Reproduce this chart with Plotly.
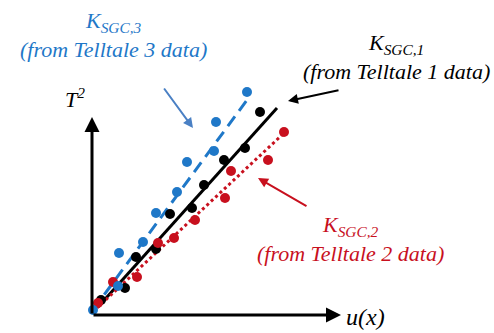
import plotly.graph_objects as go

# Data (schematic units: u(x) horizontal, T^2 vertical)
u_tt3 = [0.05, 1.3, 1.35, 2.55, 3.2, 4.25, 4.75, 6.1, 6.2, 7.75]
T2_tt3 = [0.25, 1.45, 3.1, 3.65, 5.1, 6.15, 7.65, 8.2, 9.65, 11.15]
u_tt1 = [0.45, 1.65, 2.2, 3.2, 3.9, 5.0, 5.6, 6.6, 7.65, 8.4]
T2_tt1 = [0.75, 1.35, 2.9, 3.3, 5.05, 5.35, 6.5, 7.75, 8.35, 10.15]
u_tt2 = [0.3, 1.05, 2.25, 3.3, 4.1, 5.15, 6.65, 6.95, 8.8, 9.6]
T2_tt2 = [0.6, 1.65, 1.9, 3.6, 3.85, 4.75, 5.85, 7.2, 7.75, 9.15]

fit3_u = [0.05, 7.75]
fit3_T = [0.25, 10.75]
fit1_u = [0.3, 9.25]
fit1_T = [0.4, 10.35]
fit2_u = [0.25, 9.5]
fit2_T = [0.35, 9.0]

label_texts = ["K<sub>SGC,3</sub><br>(from Telltale 3 data)",
               "K<sub>SGC,1</sub><br>(from Telltale 1 data)",
               "K<sub>SGC,2</sub><br>(from Telltale 2 data)"]

BLUE = "#1f78c8"
RED = "#c8101e"
BLACK = "#000000"
FONT = "Liberation Serif"

fig = go.Figure()
fig.add_trace(go.Scatter(x=fit3_u, y=fit3_T, mode="lines", showlegend=False,
                         line=dict(color=BLUE, width=3, dash="12px,7px")))
fig.add_trace(go.Scatter(x=fit1_u, y=fit1_T, mode="lines", showlegend=False,
                         line=dict(color=BLACK, width=3)))
fig.add_trace(go.Scatter(x=fit2_u, y=fit2_T, mode="lines", showlegend=False,
                         line=dict(color=RED, width=3, dash="3px,3px")))
fig.add_trace(go.Scatter(x=u_tt1, y=T2_tt1, mode="markers", showlegend=False,
                         marker=dict(color=BLACK, size=10)))
fig.add_trace(go.Scatter(x=u_tt2, y=T2_tt2, mode="markers", showlegend=False,
                         marker=dict(color=RED, size=10)))
fig.add_trace(go.Scatter(x=u_tt3, y=T2_tt3, mode="markers", showlegend=False,
                         marker=dict(color=BLUE, size=10)))

ann = []
# axes arrows
ann.append(dict(x=0, y=9.9, ax=0, ay=0, xref="x", yref="y", axref="x", ayref="y",
                showarrow=True, arrowhead=2, arrowsize=1, arrowwidth=3, arrowcolor=BLACK, text=""))
ann.append(dict(x=12.45, y=0, ax=0, ay=0, xref="x", yref="y", axref="x", ayref="y",
                showarrow=True, arrowhead=2, arrowsize=1, arrowwidth=3, arrowcolor=BLACK, text=""))
ann.append(dict(x=-0.85, y=10.85, xref="x", yref="y", showarrow=False,
                text="T<sup>2</sup>", font=dict(family=FONT, size=22, color=BLACK, style="italic")))
ann.append(dict(x=13.65, y=-0.1, xref="x", yref="y", showarrow=False,
                text="u(x)", font=dict(family=FONT, size=24, color=BLACK, style="italic")))
# series labels
for txt, px, py, col in zip(label_texts, [1.05, 15.2, 12.9], [14.0, 12.9, 3.8],
                            [BLUE, BLACK, RED]):
    ann.append(dict(x=px, y=py, xref="x", yref="y", showarrow=False, align="center",
                    text=txt, font=dict(family=FONT, size=22, color=col, style="italic")))
# pointer arrows
ann.append(dict(x=5.05, y=9.35, ax=3.55, ay=11.4, xref="x", yref="y", axref="x", ayref="y",
                showarrow=True, arrowhead=2, arrowsize=1, arrowwidth=2, arrowcolor="#4a80c4", text=""))
ann.append(dict(x=9.8, y=10.7, ax=12.4, ay=11.25, xref="x", yref="y", axref="x", ayref="y",
                showarrow=True, arrowhead=2, arrowsize=1, arrowwidth=2, arrowcolor=BLACK, text=""))
ann.append(dict(x=8.3, y=6.85, ax=10.8, ay=5.4, xref="x", yref="y", axref="x", ayref="y",
                showarrow=True, arrowhead=2, arrowsize=1, arrowwidth=2, arrowcolor=RED, text=""))

fig.update_layout(
    template="none",
    width=494, height=333, margin=dict(l=0, r=0, t=0, b=0),
    showlegend=False,
    xaxis=dict(range=[-4.6, 20.1], visible=False),
    yaxis=dict(range=[-0.9, 15.75], visible=False),
    annotations=ann,
)
fig.write_html("out.html")
